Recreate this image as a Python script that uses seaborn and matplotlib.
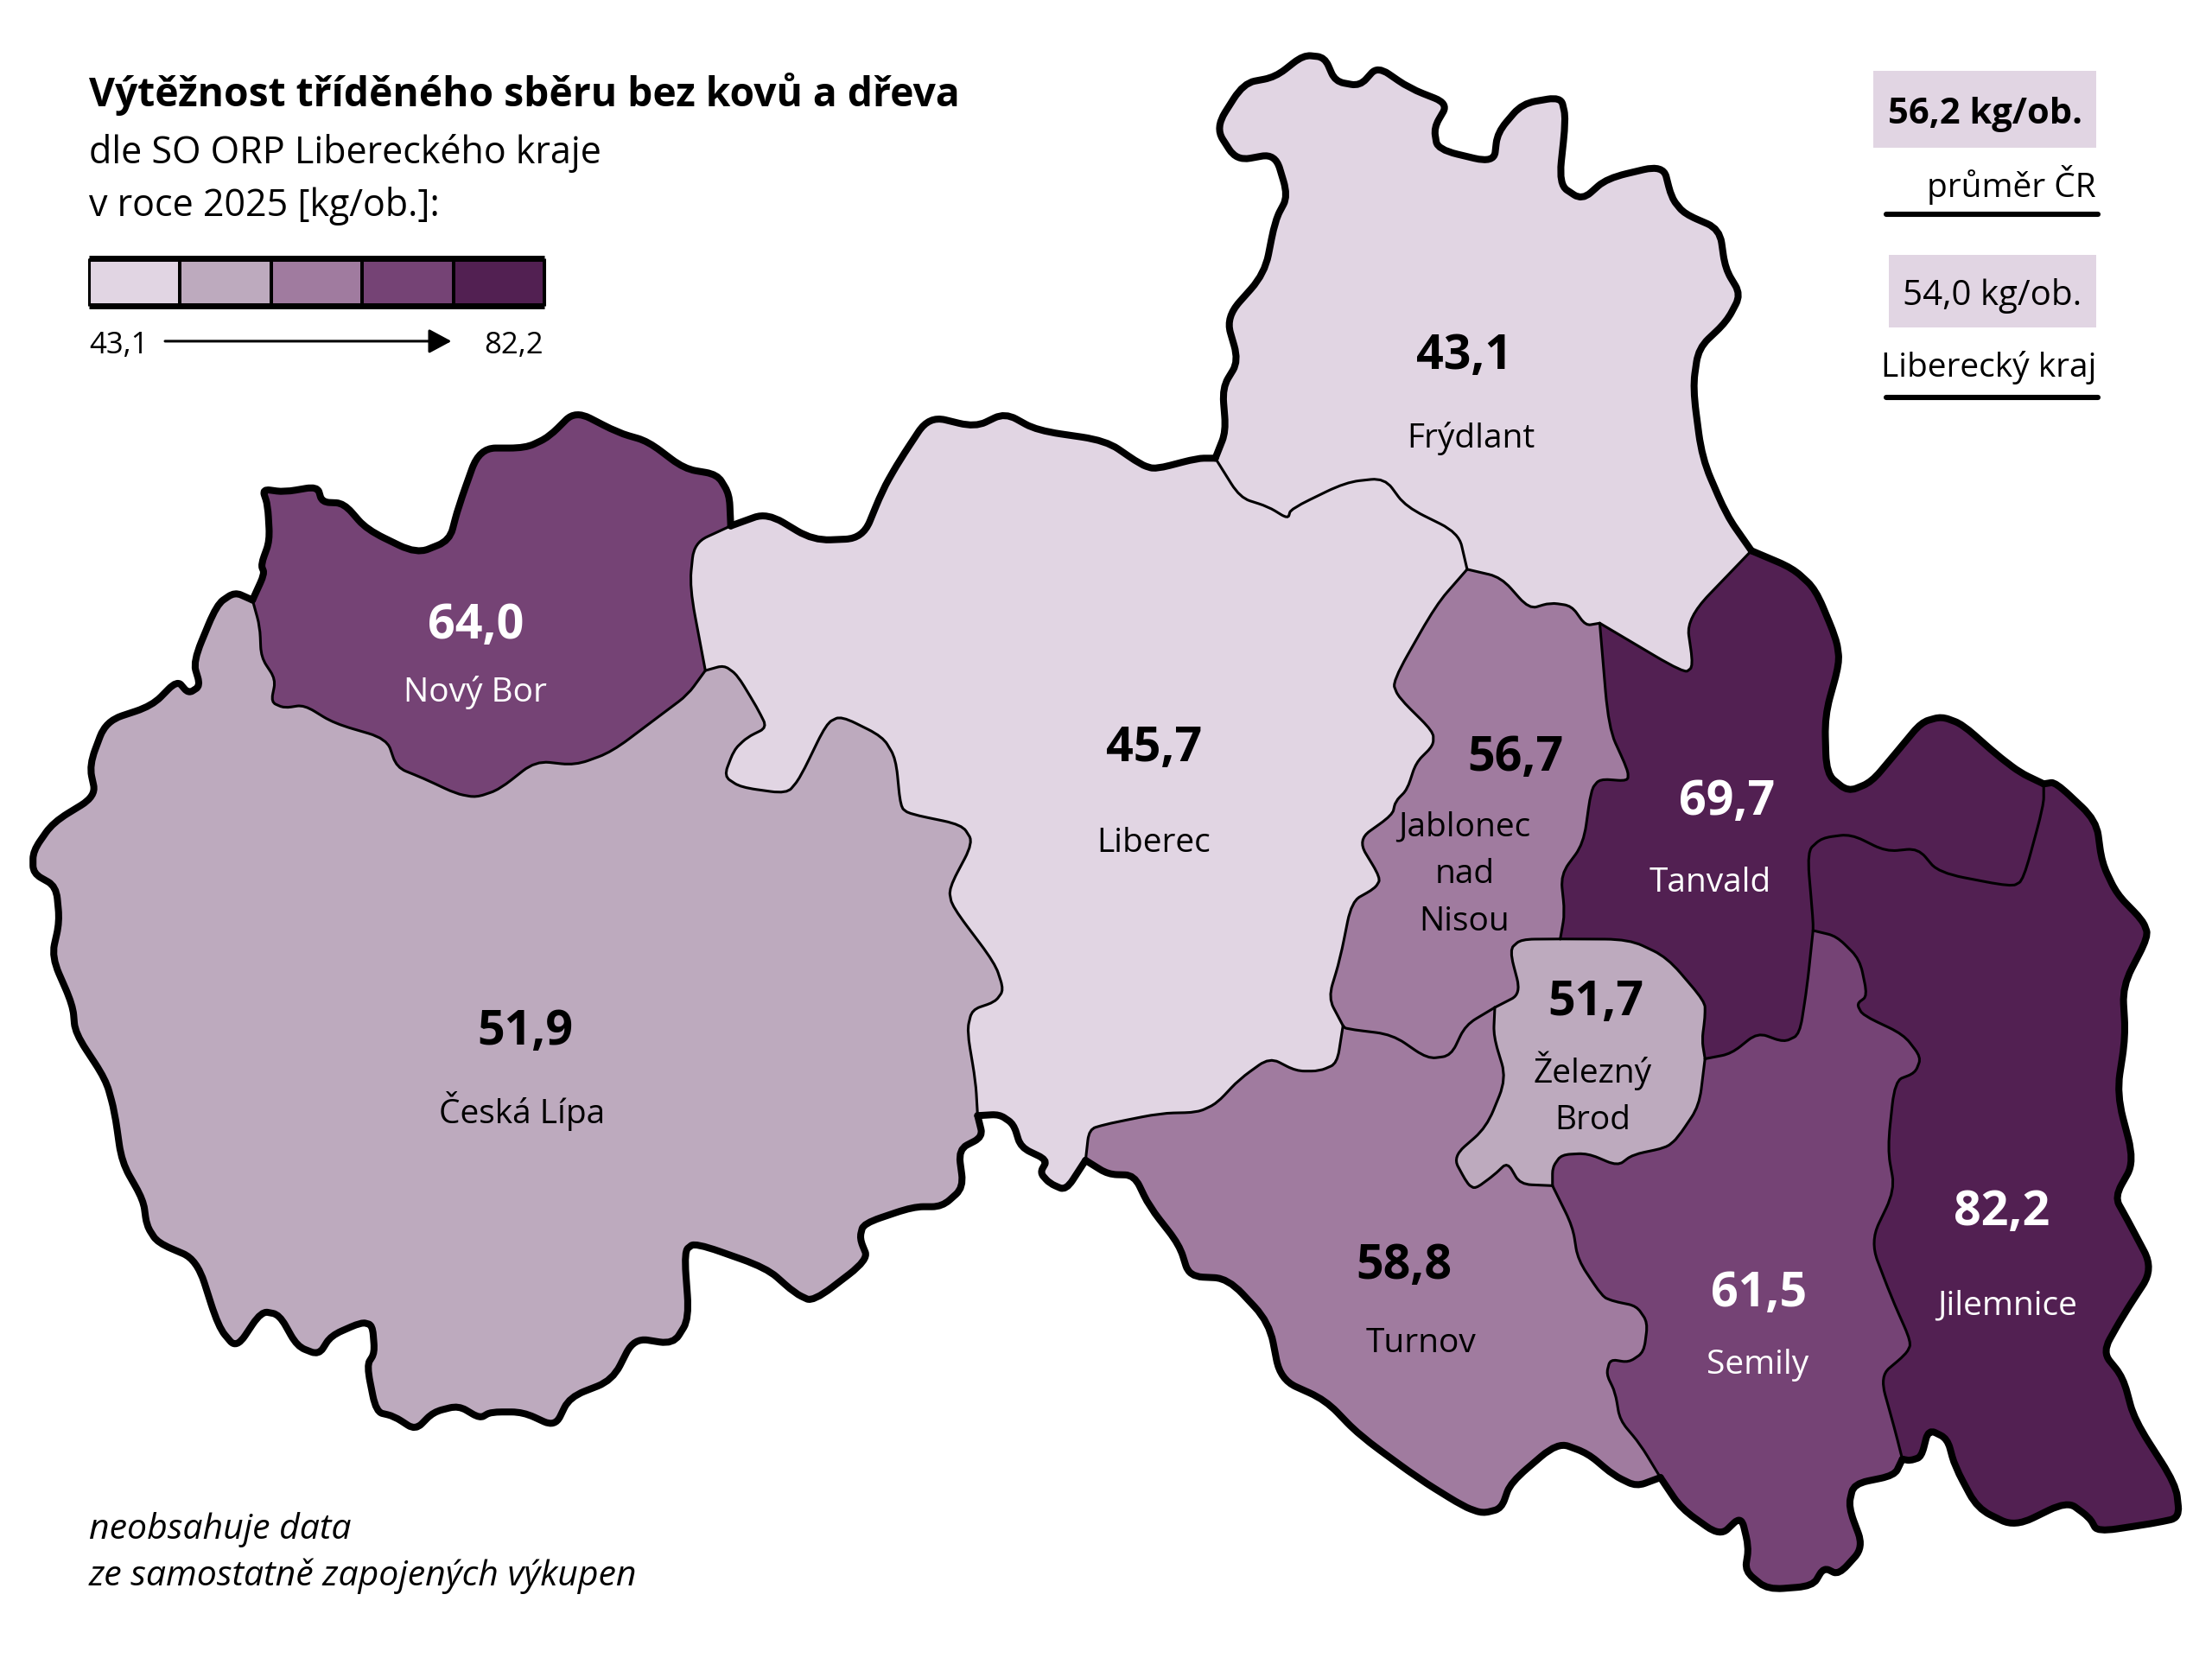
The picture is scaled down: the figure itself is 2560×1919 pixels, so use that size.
import seaborn as sns
import pandas as pd
import numpy as np
import matplotlib.pyplot as plt
from matplotlib.path import Path
from matplotlib.patches import PathPatch, Rectangle
from matplotlib.colors import ListedColormap

# values per region
names = ['Frýdlant', 'Liberec', 'Nový Bor', 'Česká Lípa', 'Jablonec\nnad\nNisou',
         'Tanvald', 'Železný\nBrod', 'Turnov', 'Semily', 'Jilemnice']
values = ['43,1', '45,7', '64,0', '51,9', '56,7', '69,7', '51,7', '58,8', '61,5', '82,2']
classes = [0, 0, 3, 1, 2, 4, 1, 2, 3, 4]
palette = ['#E1D5E3', '#BDAABE', '#A07B9F', '#754375', '#522052']
legend_cells = [[0, 1, 2, 3, 4]]

# border nodes
A = (861.5, 325); B = (1241.5, 390.6); C = (1040, 403.8); D = (1134, 442)
E = (518, 373); F = (179, 425.6); G = (500, 475.6); H = (693, 791.3)
I = (769.5, 823); J = (952, 727.5); K = (1059.6, 714.6); L = (1106, 666)
M = (1208.6, 751); N = (1285.2, 660); O = (1448.7, 556); P = (1348.5, 1035)
Q = (1177, 1048); R = (1100.5, 841)

# outer borders
frydlant_outer = [A, (869, 306), (866.5, 275), (878, 256), (869, 225), (896.5, 194), (904, 156), (913, 139),
                  (904, 109), (876.5, 114), (861.5, 90.6), (881.5, 59), (904, 54.7), (924, 39), (939, 40.6),
                  (946.5, 57.8), (964, 61), (976.5, 47), (999, 62.5), (1026.5, 73.4), (1016.5, 90.6), (1019, 106),
                  (1059, 115.6), (1061.5, 94), (1079, 73.4), (1106.5, 68.7), (1110, 84), (1105, 131), (1121.5, 142),
                  (1139, 126.5), (1179, 117), (1185, 140.6), (1194, 151.6), (1219, 162.5), (1223, 190.6), (1234, 209),
                  (1224, 228), (1204, 247), (1200, 275), (1206.5, 325), (1224, 365.6), B]
tanvald_outer = [B, (1270.7, 403), (1287, 418), (1301.8, 453.5), (1304, 470), (1293.5, 508), (1294.7, 549),
                 (1310, 561.5), (1326.6, 554.7), (1345, 532.8), (1362, 512.3), (1376.3, 508.2), (1391, 513.7),
                 (1415.6, 535.5), (1432, 548), O]
jilemnice_outer = [O, (1457, 554.7), (1486, 582), (1490, 612), (1500.5, 634), (1519, 653), (1523, 664),
                   (1504.6, 699.6), (1506.7, 735), (1500.5, 776), (1513, 824), (1499, 849), (1508, 865),
                   (1526.5, 900), (1505, 933), (1490.4, 959), (1505, 977), (1513, 1007), (1542.4, 1053),
                   (1545, 1076.6), (1526.5, 1080.5), (1486.7, 1086.5), (1481.3, 1076.5), (1465.4, 1064.8),
                   (1428.2, 1083), (1401.7, 1070), (1385.7, 1040), (1380.4, 1020.4), (1367, 1013.8),
                   (1362, 1033.4), (1354, 1036), P]
semily_outer = [P, (1343, 1046.5), (1314, 1052.5), (1310.3, 1068.7), (1321, 1097.5), (1303.4, 1117), (1292.8, 1111.8),
                (1285, 1125), (1253, 1127.5), (1237, 1114.4), (1239.6, 1097.5), (1234.3, 1075.2), (1219.4, 1089.6),
                (1191.8, 1070), Q]
turnov_outer = [Q, (1160, 1054.3), (1144, 1046.5), (1125.4, 1030.8), (1104.2, 1023), (1070.7, 1051.7),
                (1064.3, 1070), (1051, 1073.4), (1037.8, 1068.7), (1006, 1049), (963.4, 1017.8), (939.5, 993),
                (907.6, 978.6), (899.7, 938), (870.5, 906.7), (843, 905.4), (836, 883), (814.7, 855.7),
                (804, 833.5), (785.5, 833), I]
liberec_south = [I, (755.6, 844.4), (744, 839.3), (737.3, 831.8), (742.4, 822.8), (723.6, 813.8), (718.5, 797.3),
                 (708.4, 790.4), H]
lipa_outer = [H, (696.7, 806.3), (679.4, 815.3), (683, 842.3), (667.8, 855.9), (647.4, 855.9), (612, 867.9),
              (609.4, 878.4), (615.5, 893.4), (576.4, 923.4), (563.7, 917.4), (543.4, 899.4), (492.6, 881.4),
              (485, 887.4), (488.5, 935.4), (477.3, 953.4), (449.4, 949), (434.2, 979), (403.7, 991), (393.5, 1012),
              (370.7, 1001.5), (347.8, 1001.5), (340.2, 1006), (325, 997), (307.2, 1001.5), (294.5, 1014.4),
              (279.3, 1004.5), (266.6, 1001.5), (260, 968.5), (265.6, 959.5), (264, 939.9), (256.4, 937.8),
              (234.6, 947.4), (226, 961), (210.7, 955), (198, 932.4), (185.3, 930), (167.6, 956.5), (154.9, 941.4),
              (139.6, 893.4), (111.7, 881.4), (104, 869.4), (101.6, 851.3), (86.3, 824.3), (81.2, 788.3),
              (75, 765.8), (53.3, 732.7), (51.6, 713), (36.6, 678.7), (42.2, 653.7), (39.8, 628.7), (23.4, 619.4),
              (23.4, 603.7), (37.5, 583.4), (68, 564.7), (63.3, 542.8), (75, 511.5), (107.8, 500.6), (125.6, 482.5),
              (133.6, 491.9), (142, 486.5), (136.9, 469.4), (153.7, 428.7), (166.4, 420), F]
bor_outer = [F, (187.5, 406.9), (185, 400.6), (191.2, 383.4), (189.8, 358.4), (186, 346.9), (201.5, 349), (225, 345),
             (228.3, 356.2), (243.7, 356.9), (260, 375.6), (295.3, 392.8), (318.7, 383.4), (324.8, 360),
             (339.8, 317.8), (372.6, 317.8), (389, 310), (407.8, 291.2), (438.2, 306.9), (459.3, 313),
             (485, 332.5), (508.5, 336.5), (517, 350.6), E]
liberec_north = [E, (543.7, 363.7), (576.5, 383.4), (611.6, 381.9), (625.7, 347.5), (637.4, 327), (658.5, 295),
                 (691.3, 303), (712.4, 292.8), (735, 305.3), (784, 312.5), (809, 329.7), (819, 332.8), (849, 325), A]

# inner borders
a_to_c = [A, (879, 353), (899, 359.4), (913, 368), (915, 361), (954, 342), (981.5, 339), (996.5, 359.4),
          (1034, 378), C]
c_to_d = [C, (1064, 409.4), (1084, 432), (1099, 427.5), (1114, 429.7), (1124, 443.7), D]
d_to_b = [D, (1194, 477.6), (1200.3, 472.7), (1195.4, 438.5), B]
c_to_j = [C, (1018, 429), (987, 483.6), (991.3, 494.5), (1016, 519), (1016, 528.7), (1003.7, 541), (997.5, 560),
          (989.2, 568.4), (987, 578), (962.3, 595.7), (978.8, 623), (974.7, 630), (958.1, 639.4), (949.9, 680.4),
          (941.6, 707.8), J]
j_to_k = [J, (954, 729.7), (987, 733.8), (1012, 751), (1028.5, 748.8), (1038.9, 727), K]
k_to_l = [K, (1078.2, 705), (1070, 673.6), (1078.2, 666.2), L]
d_to_l = [D, (1140.3, 516.4), (1154, 546.5), (1154, 554), (1134, 552.5), (1127.9, 560), (1122.5, 598.4),
          (1106.3, 620.3), (1109.2, 647.6), L]
l_to_m = [L, (1154.8, 666.2), (1181.7, 679), (1208.6, 710.5), (1208.6, 721.5), (1206.5, 737.8), M]
m_to_n = [M, (1227.2, 747.4), (1245.9, 732.4), (1264.5, 739.2), (1275.7, 733.8), (1281, 699.6), N]
n_to_o = [N, (1285.2, 653), (1281, 603.9), (1291.4, 594.3), (1312, 591.6), (1337, 604), (1359.7, 601.7),
          (1374.2, 619), (1426, 629), (1434.2, 624.4), (1448.7, 571), O]
n_to_p = [N, (1301.8, 664), (1318.3, 680.4), (1323.7, 706.4), (1316.2, 712), (1320.4, 720), (1349.4, 733.8),
          (1361.8, 750), (1357.6, 761), (1343.2, 766.6), (1338, 815), (1343.2, 844), (1325.7, 880.6),
          (1340.6, 919.8), (1355, 952.4), (1351.2, 960.3), (1332.6, 976), (1343.2, 1014), P]
m_to_r = [M, (1204.5, 784.3), (1189, 807.4), (1181, 814), (1157.3, 819), (1146.7, 827), (1125.4, 818),
          (1106.8, 819), (1100.5, 828), R]
k_to_r = [K, (1058.7, 735), (1067.8, 765), (1053.7, 799.6), (1029.8, 820.5), (1040.4, 840), (1045.8, 843.2),
          (1059, 833.5), (1068.6, 824.4), (1077.6, 840), R]
r_to_q = [R, (1114.8, 870), (1118.5, 893.6), (1136, 919.8), (1144, 923), (1160, 926.3), (1168, 938), (1165.3, 959),
          (1154.6, 966.3), (1141.4, 964.2), (1138.7, 974.6), (1145, 987.7), (1148.3, 1007.3), (1162.6, 1024.3), Q]
i_to_j = [I, (772, 800.9), (785.5, 797), (822.7, 789.6), (849, 789), (862.5, 782.6), (878.4, 765.6), (900, 750),
          (918.8, 759.7), (935.4, 759.7), (947.8, 754.3), J]
g_to_h = [G, (513.2, 471.9), (522.6, 478.7), (536.7, 502), (543.7, 516), (529.6, 523), (520.3, 531.9), (513.2, 550.6),
          (525, 558.4), (557.8, 563), (567, 552), (585.9, 513), (596.2, 507.8), (625.7, 522.5), (635, 538),
          (638.4, 572.5), (644.5, 577.2), (682, 585), (689.9, 597.5), (672.6, 630.3), (674.9, 642.8),
          (705.4, 683.4), (711.5, 702.2), (705.4, 710.6), (689, 716.2), (685.5, 731), (691.6, 767.3), H]
e_to_g = [E, (492, 385), (488.8, 416.2), G]
f_to_g = [F, (184.2, 444.4), (185.1, 466.2), (195.4, 481.9), (192.2, 498.1), (201.5, 502.2), (215.6, 500),
          (236.7, 513), (274.2, 524), (281.2, 544.4), (300, 552), (323.4, 563), (337.5, 565.6), (353.9, 560),
          (379.6, 539.7), (407.8, 542.8), (433.5, 533.4), (468.7, 506.9), (487.5, 492.8), G]

outer_arcs = [frydlant_outer, tanvald_outer, jilemnice_outer, semily_outer, turnov_outer, liberec_south,
              lipa_outer, bor_outer, liberec_north]
inner_arcs = [a_to_c, c_to_d, d_to_b, c_to_j, j_to_k, k_to_l, d_to_l, l_to_m, m_to_n, n_to_o, n_to_p, m_to_r,
              k_to_r, r_to_q, i_to_j, g_to_h, e_to_g, f_to_g]


def rev(arc):
    return arc[::-1]


# each region walks round its arcs
region_arcs = [
    [frydlant_outer, rev(d_to_b), rev(c_to_d), rev(a_to_c)],
    [liberec_north, a_to_c, c_to_j, rev(i_to_j), liberec_south, rev(g_to_h), rev(e_to_g)],
    [bor_outer, e_to_g, rev(f_to_g)],
    [lipa_outer, f_to_g, g_to_h],
    [c_to_d, d_to_l, rev(k_to_l), rev(j_to_k), rev(c_to_j)],
    [tanvald_outer, rev(n_to_o), rev(m_to_n), rev(l_to_m), rev(d_to_l), d_to_b],
    [k_to_l, l_to_m, m_to_r, rev(k_to_r)],
    [turnov_outer, i_to_j, j_to_k, k_to_r, r_to_q],
    [n_to_p, semily_outer, rev(r_to_q), rev(m_to_r), m_to_n],
    [jilemnice_outer, rev(n_to_p), n_to_o],
]

# label places
value_xy = [(1038, 253), (818, 531), (337, 444), (372, 732), (1074, 538), (1224, 569), (1131, 711), (995, 898),
            (1247, 918), (1419, 860)]
name_xy = [(1043, 311), (818, 598), (337, 491), (370, 788), (1038, 620), (1212, 626), (1129, 776), (1007, 953),
           (1246, 968), (1423, 926)]
df = pd.DataFrame({'name': names, 'value': values, 'cls': classes})


def smooth(arcs, t=0.35):
    # rounded corners only, the line stays close to the read points
    verts, codes = [], []
    for arc in arcs:
        pts = np.array(arc, dtype=float)
        verts.append(pts[0])
        codes.append(Path.LINETO if codes else Path.MOVETO)
        for i in range(1, len(pts) - 1):
            before = pts[i] + (pts[i - 1] - pts[i]) * t
            after = pts[i] + (pts[i + 1] - pts[i]) * t
            verts += [before, pts[i], after]
            codes += [Path.LINETO, Path.CURVE3, Path.CURVE3]
        verts.append(pts[-1])
        codes.append(Path.LINETO)
    return Path(verts, codes)


sns.set_theme(style='white')
plt.rcParams['font.family'] = ['Open Sans', 'DejaVu Sans']

fig = plt.figure(figsize=(25.6, 19.19), dpi=100)
ax = fig.add_axes([0, 0, 1, 1])
ax.set_xlim(0, 1568)
ax.set_ylim(1176, 0)
ax.axis('off')

for i, row in df.iterrows():
    ax.add_patch(PathPatch(smooth(region_arcs[i]), facecolor=palette[row['cls']], edgecolor='none', zorder=1))
for arc in inner_arcs:
    ax.add_patch(PathPatch(smooth([arc]), facecolor='none', edgecolor='black', lw=2.2, capstyle='round', zorder=2))
for arc in outer_arcs:
    ax.add_patch(PathPatch(smooth([arc]), facecolor='none', edgecolor='black', lw=5.8, capstyle='round',
                           joinstyle='round', zorder=3))

for i, row in df.iterrows():
    col = 'white' if row['cls'] >= 3 else 'black'
    ax.text(*value_xy[i], row['value'], color=col, fontsize=40, fontweight='bold', ha='center', va='center', zorder=4)
    ax.text(*name_xy[i], row['name'], color=col, fontsize=28, ha='center', va='center', linespacing=1.58, zorder=4)

# title block
ax.text(63, 67, 'Výtěžnost tříděného sběru bez kovů a dřeva', fontsize=33.2, fontweight='bold', va='center', color='black')
ax.text(63, 109, 'dle SO ORP Libereckého kraje', fontsize=31, va='center', color='black')
ax.text(63, 146, 'v roce 2025 [kg/ob.]:', fontsize=31, va='center', color='black')

# legend scale
leg_ax = fig.add_axes([63 / 1568, 1 - 217 / 1176, 323 / 1568, 34 / 1176])
sns.heatmap(legend_cells, cmap=ListedColormap(palette), cbar=False, linewidths=1.5, linecolor='black',
            xticklabels=False, yticklabels=False, ax=leg_ax)
leg_ax.hlines([0, 1], 0, 5, color='black', lw=5, clip_on=False)
leg_ax.vlines([0, 5], 0, 1, color='black', lw=2.2, clip_on=False)

ax.text(63, 245, '43,1', fontsize=25, va='center', color='black')
ax.text(385, 245, '82,2', fontsize=25, va='center', ha='right', color='black')
ax.annotate('', xy=(320, 242), xytext=(117, 242),
            arrowprops=dict(arrowstyle='-|>,head_length=0.8,head_width=0.43', color='black', lw=2.2,
                            shrinkA=0, shrinkB=0, mutation_scale=20))

# reference boxes
ax.add_patch(Rectangle((1328, 50), 158, 55, facecolor=palette[0], edgecolor='none'))
ax.add_patch(Rectangle((1339, 181), 147, 51, facecolor=palette[0], edgecolor='none'))
ax.text(1407, 81, '56,2 kg/ob.', fontsize=30, fontweight='bold', ha='center', va='center', color='black')
ax.text(1412, 210, '54,0 kg/ob.', fontsize=29, ha='center', va='center', color='black')
ax.text(1486, 131, 'průměr ČR', fontsize=28, ha='right', va='center', color='black')
ax.text(1486, 261, 'Liberecký kraj', fontsize=28, ha='right', va='center', color='black')
ax.plot([1337, 1487], [152, 152], color='black', lw=4.4, solid_capstyle='round')
ax.plot([1337, 1487], [282, 282], color='black', lw=4.4, solid_capstyle='round')

# footnote
ax.text(63, 1085, 'neobsahuje data', fontsize=29.5, style='italic', va='center', color='black')
ax.text(63, 1118, 'ze samostatně zapojených výkupen', fontsize=29.5, style='italic', va='center', color='black')

fig.savefig('out.png', dpi=100, facecolor='white')
